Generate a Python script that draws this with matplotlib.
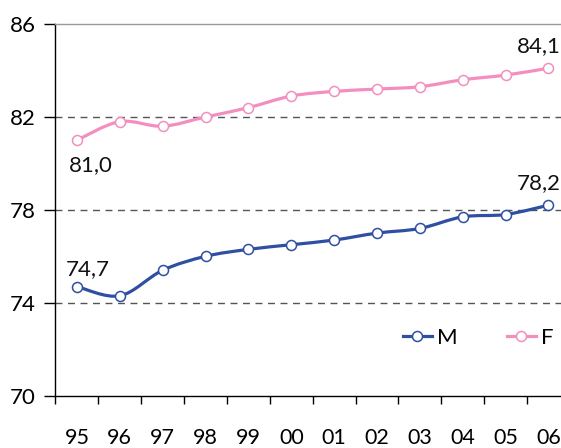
import matplotlib
matplotlib.use("Agg")
import matplotlib.pyplot as plt
from matplotlib.path import Path
from matplotlib.patches import PathPatch
from matplotlib.lines import Line2D
import numpy as np

plt.rcParams['font.family'] = ['Lato', 'DejaVu Sans']

years = ["95", "96", "97", "98", "99", "00", "01", "02", "03", "04", "05", "06"]
male = [74.7, 74.3, 75.4, 76.0, 76.3, 76.5, 76.7, 77.0, 77.2, 77.7, 77.8, 78.2]
female = [81.0, 81.8, 81.6, 82.0, 82.4, 82.9, 83.1, 83.2, 83.3, 83.6, 83.8, 84.1]
yticks = [70, 74, 78, 82, 86]
blue = "#2f4fa3"
pink = "#f28fbf"

fig = plt.figure(figsize=(5.61, 4.48), dpi=100)
ax = fig.add_axes([0.0989, 0.1167, 0.917, 0.8297])

def smooth_path(xs, ys):
    xs = np.asarray(xs, float); ys = np.asarray(ys, float)
    verts = [(xs[0], ys[0])]
    codes = [Path.MOVETO]
    n = len(xs)
    for i in range(n - 1):
        p0 = np.array([xs[max(i - 1, 0)], ys[max(i - 1, 0)]])
        p1 = np.array([xs[i], ys[i]])
        p2 = np.array([xs[i + 1], ys[i + 1]])
        p3 = np.array([xs[min(i + 2, n - 1)], ys[min(i + 2, n - 1)]])
        c1 = p1 + (p2 - p0) / 6.0
        c2 = p2 - (p3 - p1) / 6.0
        verts += [tuple(c1), tuple(c2), tuple(p2)]
        codes += [Path.CURVE4] * 3
    return Path(verts, codes)

x = np.arange(len(years))
for vals, col in [(male, blue), (female, pink)]:
    ax.add_patch(PathPatch(smooth_path(x, vals), facecolor='none', edgecolor=col,
                           lw=2.3, zorder=3, capstyle='round', joinstyle='round'))
    ax.plot(x, vals, linestyle='none', marker='o', ms=7.2, mfc='white', mec=col,
            mew=1.1, zorder=4, clip_on=False)

ax.set_xlim(-0.5, len(years) - 0.5)
ax.set_ylim(70, 86)

for v in [74, 78, 82]:
    ax.axhline(v, color='#555555', lw=1.0, linestyle=(0, (5, 4)), zorder=1)

ax.spines['right'].set_visible(False)
ax.spines['top'].set_color('#9a9a9a')
ax.spines['top'].set_linewidth(1.0)
ax.spines['left'].set_linewidth(1.0)
ax.spines['bottom'].set_linewidth(1.0)

ax.set_yticks(yticks)
ax.set_yticklabels([str(t) for t in yticks])
ax.tick_params(axis='y', direction='out', length=8, width=1.0, pad=6, labelsize=16)

ax.set_xticks(x)
ax.set_xticklabels(years)
ax.set_xticks(np.arange(len(years) + 1) - 0.5, minor=True)
ax.tick_params(axis='x', which='major', length=0, pad=23, labelsize=15.5)
ax.tick_params(axis='x', which='minor', direction='out', length=6, width=1.0)

fs = 16
def fmt(v):
    return f"{v:.1f}".replace('.', ',')
ax.annotate(fmt(female[0]), (x[0], female[0]), xytext=(-6, -11), textcoords='offset points',
            ha='left', va='top', fontsize=fs, color='#111111')
ax.annotate(fmt(male[0]), (x[0], male[0]), xytext=(-8, 5), textcoords='offset points',
            ha='left', va='bottom', fontsize=fs, color='#111111')
ax.annotate(fmt(female[-1]), (x[-1], female[-1]), xytext=(-23, 9), textcoords='offset points',
            ha='left', va='bottom', fontsize=fs, color='#111111', annotation_clip=False)
ax.annotate(fmt(male[-1]), (x[-1], male[-1]), xytext=(-23, 9), textcoords='offset points',
            ha='left', va='bottom', fontsize=fs, color='#111111', annotation_clip=False)

handles = [Line2D([], [], color=blue, lw=2.3, marker='o', ms=7.2, mfc='white', mec=blue, mew=1.1),
           Line2D([], [], color=pink, lw=2.3, marker='o', ms=7.2, mfc='white', mec=pink, mew=1.1)]
ax.legend(handles, ['M', 'F'], loc='center left', bbox_to_anchor=(0.636, 0.155), ncol=2,
          frameon=False, fontsize=16, handlelength=1.3, handletextpad=0.25, columnspacing=2.2)

fig.savefig("out.png", dpi=100)
